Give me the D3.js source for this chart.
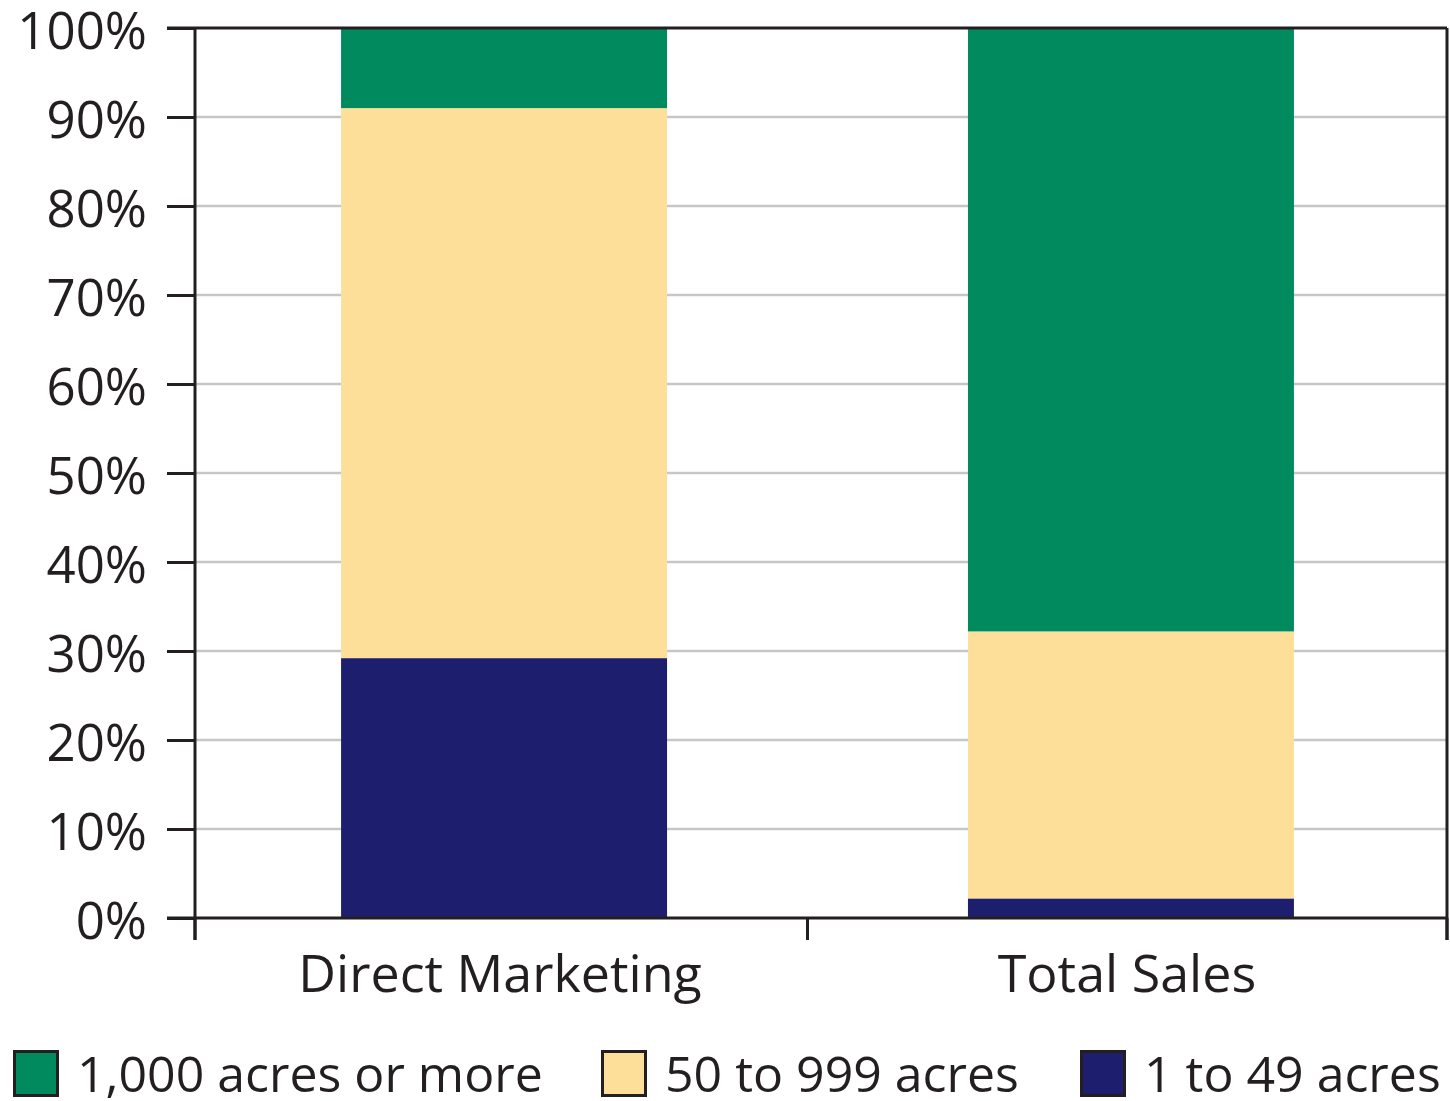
<!DOCTYPE html>
<html>
<head>
<meta charset="utf-8">
<script src="https://cdn.jsdelivr.net/npm/d3@7"></script>
<style>
body { margin: 0; background: #fff; }
svg text { font-family: "Open Sans", sans-serif; fill: #231f20; }
</style>
</head>
<body>
<script>
var categories = ["Direct Marketing", "Total Sales"];
var seriesNames = ["1 to 49 acres", "50 to 999 acres", "1,000 acres or more"];
var small = [29.2, 2.2];
var mid = [61.8, 30.0];
var large = [9.0, 67.8];
var yTicks = [0, 10, 20, 30, 40, 50, 60, 70, 80, 90, 100];
var legendOrder = ["1,000 acres or more", "50 to 999 acres", "1 to 49 acres"];
var colors = {"1 to 49 acres": "#1d1f6e", "50 to 999 acres": "#fddf99", "1,000 acres or more": "#008a5e"};

var svgWidth = 1450, svgHeight = 1101;
var margin = {top: 28, right: 3, bottom: 183, left: 195};
var width = svgWidth - margin.left - margin.right;
var height = svgHeight - margin.top - margin.bottom;

var svg = d3.select("body").append("svg").attr("width", svgWidth).attr("height", svgHeight);
var chart = svg.append("g").attr("transform", `translate(${margin.left}, ${margin.top})`);

var rows = categories.map((c, i) => ({cat: c, "1 to 49 acres": small[i], "50 to 999 acres": mid[i], "1,000 acres or more": large[i]}));
var stack = d3.stack().keys(seriesNames)(rows);

var x = d3.scaleBand().domain(categories).range([0, 1245]).paddingInner(0.48).paddingOuter(0.233);
var y = d3.scaleLinear().domain([0, 100]).range([height, 0]);

// gridlines
chart.selectAll(".grid").data(yTicks.slice(1, -1)).enter().append("line")
  .attr("x1", 0).attr("x2", width).attr("y1", d => y(d)).attr("y2", d => y(d))
  .attr("stroke", "#c6c6c8").attr("stroke-width", 2.5);

// bars
chart.selectAll(".layer").data(stack).enter().append("g").attr("fill", d => colors[d.key])
  .selectAll("rect").data(d => d).enter().append("rect")
  .attr("x", d => x(d.data.cat)).attr("width", x.bandwidth())
  .attr("y", d => y(d[1])).attr("height", d => y(d[0]) - y(d[1]));

// frame: top and right
chart.append("line").attr("x1", -28).attr("x2", width).attr("y1", 0).attr("y2", 0)
  .attr("stroke", "#231f20").attr("stroke-width", 3);
chart.append("line").attr("x1", width).attr("x2", width).attr("y1", 0).attr("y2", height + 22)
  .attr("stroke", "#231f20").attr("stroke-width", 3);

// y axis
var yAxis = d3.axisLeft(y).tickValues(yTicks).tickSize(28).tickPadding(20).tickFormat(d => d + "%");
var yg = chart.append("g").call(yAxis);
yg.select(".domain").remove();
yg.append("line").attr("x1", 0).attr("x2", 0).attr("y1", 0).attr("y2", height + 22)
  .attr("stroke", "#231f20").attr("stroke-width", 3);
yg.selectAll(".tick line").attr("stroke", "#231f20").attr("stroke-width", 3);
yg.selectAll(".tick text").attr("font-size", 51).attr("dy", "0.4em").style("font-family", "'Open Sans', sans-serif").attr("fill", "#231f20");

// x axis
var xAxis = d3.axisBottom(x).tickSize(0).tickPadding(37);
var xg = chart.append("g").attr("transform", `translate(0, ${height})`).call(xAxis);
xg.select(".domain").remove();
xg.append("line").attr("x1", -28).attr("x2", width).attr("y1", 0).attr("y2", 0)
  .attr("stroke", "#231f20").attr("stroke-width", 3);
xg.selectAll(".tick text").attr("font-size", 52).attr("dy", "0.71em").attr("dx", -4)
  .style("font-family", "'Open Sans', sans-serif").attr("fill", "#231f20");
var boundaries = [0, (x(categories[0]) + x.bandwidth() + x(categories[1])) / 2 - 10, width];
xg.selectAll(".sep").data(boundaries).enter().append("line")
  .attr("x1", d => d).attr("x2", d => d).attr("y1", 0).attr("y2", 22)
  .attr("stroke", "#231f20").attr("stroke-width", 3);

// legend
var legendX = [13, 601, 1080];
var legend = svg.append("g").attr("transform", "translate(0, 1050)");
legendOrder.forEach((k, i) => {
  var g = legend.append("g").attr("transform", `translate(${legendX[i]}, 0)`);
  g.append("rect").attr("x", 1.5).attr("y", 1.5).attr("width", 43).attr("height", 44)
    .attr("fill", colors[k]).attr("stroke", "#231f20").attr("stroke-width", 3);
  g.append("text").attr("x", 64).attr("y", 42).attr("font-size", 50).text(k);
});
</script>
</body>
</html>
